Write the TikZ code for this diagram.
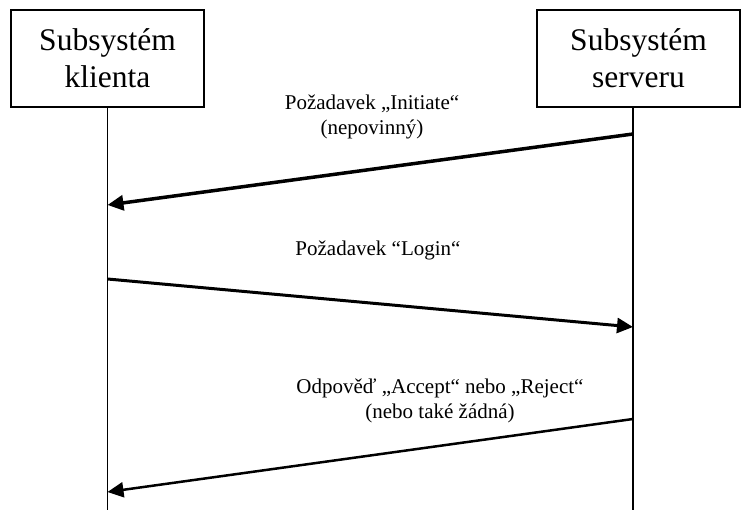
\documentclass[tikz,border=0pt]{standalone}
\usepackage{fontspec}
\setmainfont{Liberation Serif}
\usetikzlibrary{arrows.meta, positioning}
\tikzset{
  %% ---- boxes ----
  sysbox/.style   = {rectangle, draw=black, line width=1.5pt,
                     fill=white, minimum width=#1, minimum height=97pt,
                     align=center, inner sep=0pt,
                     font=\fontsize{31.5}{37}\selectfont},
  sysbox/.default = 193pt,
  msglabel/.style = {align=center, inner sep=0pt,
                     font=\fontsize{21}{25}\selectfont},
  %% ---- lines ----
  lifeline/.style = {line width=1.5pt},
  msgarrow/.style = {-{Triangle[length=16pt, width=15pt]}, line width=#1},
  msgarrow/.default = 3pt,
}

\begin{document}
\begin{tikzpicture}[x=1pt, y=-1pt]
  \useasboundingbox (0,0) rectangle (742,510);

  \node[sysbox] (client) at (107.5,58.5) {Subsystém\\klienta};
  \node[sysbox=203pt] (server) at (638.5,58.5) {Subsystém\\serveru};

  % lifelines
  \coordinate (clibot) at (107.5,510);
  \coordinate (srvtop) at (633,107);
  \coordinate (srvbot) at (633,510);
  \draw[lifeline] (client.south) -- (clibot);
  \draw[lifeline] (srvtop) -- (srvbot);

  % message ends on the lifelines
  \coordinate (initsrv) at (633,134);
  \coordinate (initcli) at (107.5,205);
  \coordinate (logincli) at (107.5,279);
  \coordinate (loginsrv) at (633,327);
  \coordinate (respsrv) at (633,419);
  \coordinate (respcli) at (107.5,492);

  \draw[msgarrow=3.5pt] (initsrv) -- (initcli);
  \draw[msgarrow] (logincli) -- (loginsrv);
  \draw[msgarrow=2.5pt] (respsrv) -- (respcli);

  \node[msglabel] (lblinit) at (372,117)
    {Požadavek „Initiate“\\(nepovinný)};
  \node[msglabel] (lbllogin) at (378,250) {Požadavek “Login“};
  \node[msglabel] (lblresp) at (440,401)
    {Odpověď „Accept“ nebo „Reject“\\(nebo také žádná)};
\end{tikzpicture}
\end{document}
